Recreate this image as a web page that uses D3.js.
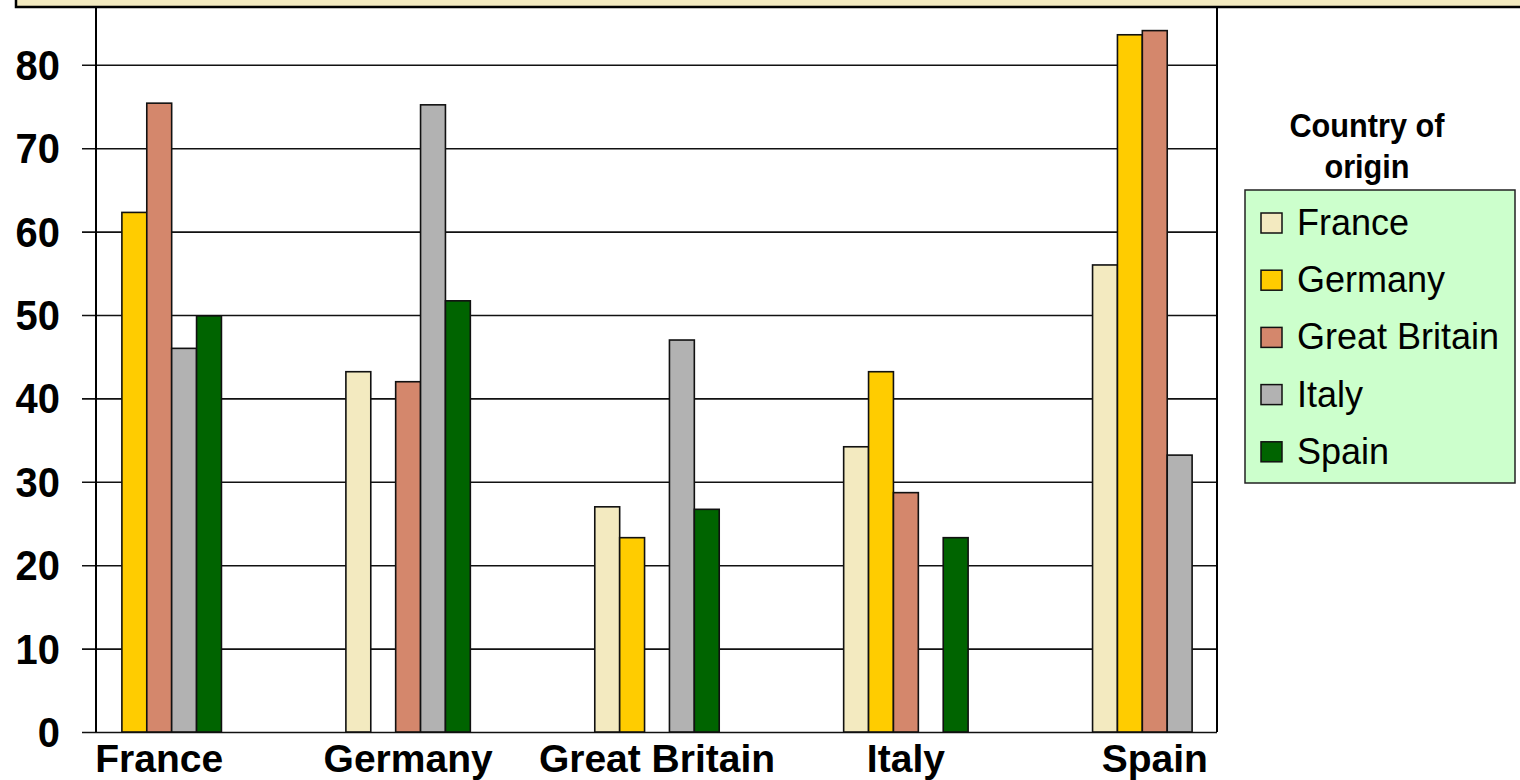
<!DOCTYPE html>
<html>
<head>
<meta charset="utf-8">
<script src="https://cdn.jsdelivr.net/npm/d3@7"></script>
<style>
  html, body { margin: 0; padding: 0; background: #ffffff; }
  svg { display: block; }
  text { font-family: Arial, "Liberation Sans", sans-serif; fill: #000; }
</style>
</head>
<body>
<svg id="chart" width="1520" height="780"></svg>
<script>
// Destination countries along the x axis
const categories = ["France", "Germany", "Great Britain", "Italy", "Spain"];
// Countries of origin (one bar per origin in each group)
const originNames = ["France", "Germany", "Great Britain", "Italy", "Spain"];
const originColors = ["#F3EAC0", "#FFCC00", "#D4876C", "#B2B2B2", "#006400"];

// Values per origin, in the order of categories (null = no bar)
const fromFrance       = [null, 43.2, 27.0, 34.2, 56.0];
const fromGermany      = [62.3, null, 23.3, 43.2, 83.6];
const fromGreatBritain = [75.4, 42.0, null, 28.7, 84.1];
const fromItaly        = [46.0, 75.2, 47.0, null, 33.2];
const fromSpain        = [49.9, 51.7, 26.7, 23.3, null];

const yTicks = [0, 10, 20, 30, 40, 50, 60, 70, 80];
const legendTitleLines = ["Country of", "origin"];

const seriesValues = [fromFrance, fromGermany, fromGreatBritain, fromItaly, fromSpain];
const series = originNames.map((name, i) => ({ name, color: originColors[i], values: seriesValues[i] }));

const svg = d3.select("#chart");

const plotLeft = 97, plotRight = 1217, axisX = 96, tickLeft = 82;
const y = d3.scaleLinear().domain([0, 90]).range([732, 732 - 90 * 8.34]);
const x = d3.scaleBand().domain(categories).range([plotLeft, plotRight]).paddingInner(0.5).paddingOuter(0);
const xInner = d3.scaleBand().domain(originNames).range([0, x.bandwidth()]).padding(0);

// Horizontal gridlines (extend left of the axis as tick marks)
const grid = svg.append("g")
  .attr("transform", `translate(${tickLeft},0)`)
  .call(d3.axisRight(y).tickValues(yTicks).tickSize(plotRight - tickLeft).tickFormat(""));
grid.select(".domain").remove();
grid.selectAll("line").attr("stroke", "#111").attr("stroke-width", 1.6);

// Bars
const groups = svg.append("g").selectAll("g")
  .data(series)
  .join("g")
  .attr("fill", d => d.color);

groups.selectAll("rect")
  .data(d => d.values.map((v, i) => ({ cat: categories[i], origin: d.name, v })).filter(e => e.v != null))
  .join("rect")
  .attr("x", e => x(e.cat) + xInner(e.origin))
  .attr("width", xInner.bandwidth())
  .attr("y", e => y(e.v))
  .attr("height", e => y(0) - y(e.v))
  .attr("stroke", "#111")
  .attr("stroke-width", 1.6);

// Vertical axis line and right border
svg.append("line").attr("x1", axisX).attr("x2", axisX).attr("y1", 0).attr("y2", y(0))
  .attr("stroke", "#000").attr("stroke-width", 2);
svg.append("line").attr("x1", plotRight).attr("x2", plotRight).attr("y1", 0).attr("y2", y(0))
  .attr("stroke", "#000").attr("stroke-width", 2);

// Y tick labels
const yAxis = svg.append("g")
  .attr("transform", `translate(${axisX},0)`)
  .call(d3.axisLeft(y).tickValues(yTicks).tickSize(0).tickPadding(36));
yAxis.select(".domain").remove();
yAxis.selectAll("text")
  .attr("x", 0)
  .attr("transform", "translate(-36,1) scale(0.95,1)")
  .attr("font-size", 42).attr("font-weight", "bold")
  .attr("font-family", "Arial, 'Liberation Sans', sans-serif").attr("fill", "#000");

// X category labels
const xAxis = svg.append("g")
  .attr("transform", `translate(0,${y(0)})`)
  .call(d3.axisBottom(x).tickSize(0).tickPadding(0));
xAxis.select(".domain").remove();
xAxis.selectAll("text")
  .attr("y", 40).attr("dy", 0)
  .attr("font-size", 39).attr("font-weight", "bold")
  .attr("font-family", "Arial, 'Liberation Sans', sans-serif").attr("fill", "#000");

// Title banner across the top
svg.append("rect")
  .attr("x", 16).attr("y", -40).attr("width", 1540).attr("height", 47)
  .attr("fill", "#F3EAC0").attr("stroke", "#000").attr("stroke-width", 2.5);

// Legend
const legendCX = 1367;
svg.append("g").selectAll("text")
  .data(legendTitleLines)
  .join("text")
  .attr("transform", (d, i) => `translate(${legendCX},${137 + i * 41}) scale(0.93,1)`)
  .attr("text-anchor", "middle")
  .attr("font-size", 33).attr("font-weight", "bold")
  .text(d => d);

svg.append("rect")
  .attr("x", 1245).attr("y", 190).attr("width", 270).attr("height", 293)
  .attr("fill", "#CCFFCC").attr("stroke", "#222").attr("stroke-width", 1.5);

const items = svg.append("g").selectAll("g")
  .data(series)
  .join("g")
  .attr("transform", (d, i) => `translate(1261,${213 + i * 57.2})`);
items.append("rect")
  .attr("width", 21).attr("height", 20)
  .attr("fill", d => d.color).attr("stroke", "#111").attr("stroke-width", 1.5);
items.append("text")
  .attr("x", 36).attr("y", 22)
  .attr("font-size", 36)
  .text(d => d.name);
</script>
</body>
</html>
